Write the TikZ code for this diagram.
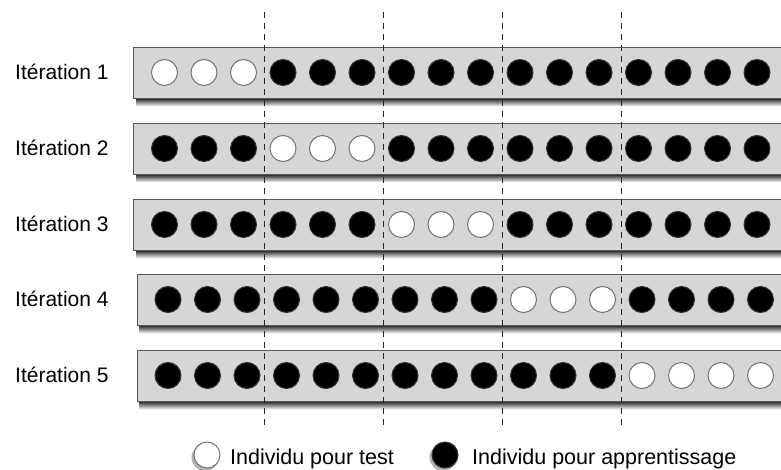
\documentclass[tikz,border=0pt]{standalone}
\usepackage{fontspec}
\setmainfont{Liberation Sans}
\begin{document}
\begin{tikzpicture}[x=1pt,y=1pt,
  bar/.style={rectangle, draw=black!65, line width=0.9pt, fill=black!16, minimum width=680pt, minimum height=51pt, inner sep=0pt},
  circ/.style={circle, minimum size=26pt, inner sep=0pt, line width=1pt},
  testc/.style={circ, draw=black!55, fill=white},
  learnc/.style={circ, draw=black!80, fill=black},
  sep/.style={black!85, line width=1.9pt, dash pattern=on 6pt off 5pt},
  lab/.style={font=\fontsize{21}{25}\selectfont, inner sep=0pt, anchor=base west},
  leglab/.style={font=\fontsize{21.5}{25}\selectfont, inner sep=0pt, anchor=base west},
]
\useasboundingbox (0,0) rectangle (781,-470);
\clip (0,0) rectangle (781,-470);

% bars with their shadows and labels
\foreach \r/\top/\sh in {1/47/0, 2/123/0, 3/199/0, 4/274/3.5, 5/350/3.5} {
  \shade[top color=black!90, bottom color=black!5] ({136+\sh},{-\top-51}) rectangle (790,{-\top-59});
  \node[bar, anchor=north west] (bar\r) at ({133+\sh},{-\top}) {};
  \node[lab] (lab\r) at (15,{-\top-32.5}) {Itération \r};
}

% dashed separators
\foreach \i in {1,...,4} {
  \coordinate (d\i t) at ({264.5+119*(\i-1)},-12);
  \coordinate (d\i b) at ({264.5+119*(\i-1)},-428);
  \draw[sep] (d\i t) -- (d\i b);
}

% individuals
\foreach \r/\top/\sh/\ts/\te in {1/47/0/0/3, 2/123/0/3/6, 3/199/0/6/9, 4/274/3.5/9/12, 5/350/3.5/12/16} {
  \foreach \k in {0,...,15} {
    \ifnum\k<\ts \def\st{learnc}\else\ifnum\k<\te \def\st{testc}\else\def\st{learnc}\fi\fi
    \node[\st] (c\r-\k) at ({164.5+39.5*\k+\sh},{-\top-25.5}) {};
  }
}

% legend
\fill[black!50, opacity=0.6] (205,-457.5) circle (13.5pt);
\node[testc] (legtest) at (207,-455) {};
\node[leglab] (legtesttxt) at (230,-464) {Individu pour test};
\fill[black!50, opacity=0.6] (443,-457.5) circle (13.5pt);
\node[learnc] (leglearn) at (445,-455) {};
\node[leglab] (leglearntxt) at (472,-464) {Individu pour apprentissage};
\end{tikzpicture}
\end{document}
